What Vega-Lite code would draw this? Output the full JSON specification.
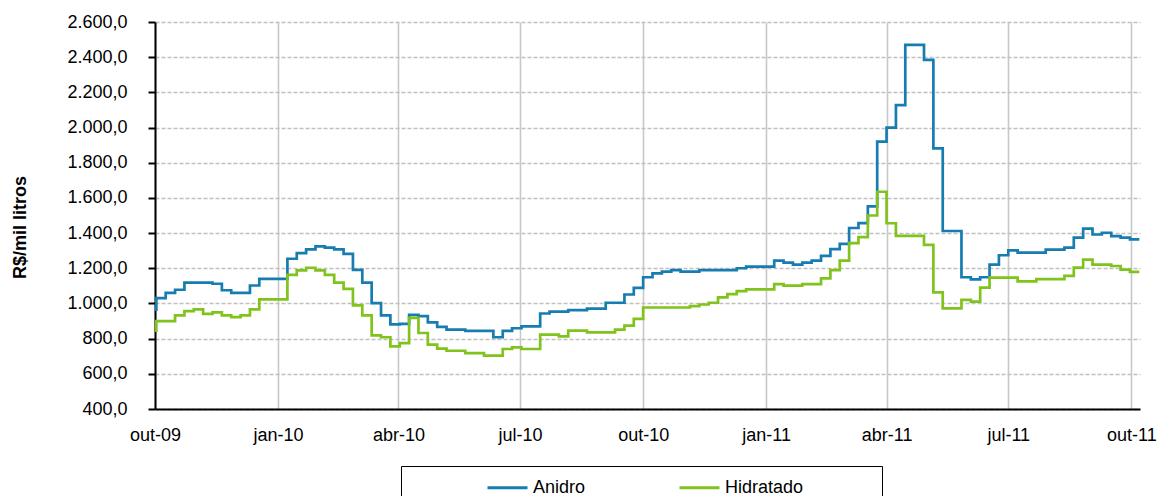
{
  "$schema": "https://vega.github.io/schema/vega-lite/v6.json",
  "width": 985,
  "height": 387,
  "autosize": {"type": "none"},
  "padding": {"left": 155, "top": 22, "right": 21, "bottom": 87},
  "background": "white",
  "datasets": {
    "precos": [
      {"data":"2009-10-01","serie":"Anidro","valor":965},{"data":"2009-10-01","serie":"Hidratado","valor":846},
      {"data":"2009-10-02","serie":"Anidro","valor":1030},{"data":"2009-10-02","serie":"Hidratado","valor":900},
      {"data":"2009-10-09","serie":"Anidro","valor":1060},{"data":"2009-10-09","serie":"Hidratado","valor":900},
      {"data":"2009-10-16","serie":"Anidro","valor":1078},{"data":"2009-10-16","serie":"Hidratado","valor":932},
      {"data":"2009-10-23","serie":"Anidro","valor":1118},{"data":"2009-10-23","serie":"Hidratado","valor":956},
      {"data":"2009-10-30","serie":"Anidro","valor":1118},{"data":"2009-10-30","serie":"Hidratado","valor":966},
      {"data":"2009-11-06","serie":"Anidro","valor":1118},{"data":"2009-11-06","serie":"Hidratado","valor":941},
      {"data":"2009-11-13","serie":"Anidro","valor":1112},{"data":"2009-11-13","serie":"Hidratado","valor":949},
      {"data":"2009-11-20","serie":"Anidro","valor":1075},{"data":"2009-11-20","serie":"Hidratado","valor":932},
      {"data":"2009-11-27","serie":"Anidro","valor":1060},{"data":"2009-11-27","serie":"Hidratado","valor":922},
      {"data":"2009-12-04","serie":"Anidro","valor":1060},{"data":"2009-12-04","serie":"Hidratado","valor":932},
      {"data":"2009-12-11","serie":"Anidro","valor":1102},{"data":"2009-12-11","serie":"Hidratado","valor":966},
      {"data":"2009-12-18","serie":"Anidro","valor":1140},{"data":"2009-12-18","serie":"Hidratado","valor":1023},
      {"data":"2009-12-25","serie":"Anidro","valor":1140},{"data":"2009-12-25","serie":"Hidratado","valor":1023},
      {"data":"2010-01-01","serie":"Anidro","valor":1140},{"data":"2010-01-01","serie":"Hidratado","valor":1023},
      {"data":"2010-01-08","serie":"Anidro","valor":1254},{"data":"2010-01-08","serie":"Hidratado","valor":1163},
      {"data":"2010-01-15","serie":"Anidro","valor":1286},{"data":"2010-01-15","serie":"Hidratado","valor":1188},
      {"data":"2010-01-22","serie":"Anidro","valor":1307},{"data":"2010-01-22","serie":"Hidratado","valor":1203},
      {"data":"2010-01-29","serie":"Anidro","valor":1324},{"data":"2010-01-29","serie":"Hidratado","valor":1188},
      {"data":"2010-02-05","serie":"Anidro","valor":1317},{"data":"2010-02-05","serie":"Hidratado","valor":1163},
      {"data":"2010-02-12","serie":"Anidro","valor":1307},{"data":"2010-02-12","serie":"Hidratado","valor":1118},
      {"data":"2010-02-19","serie":"Anidro","valor":1282},{"data":"2010-02-19","serie":"Hidratado","valor":1083},
      {"data":"2010-02-26","serie":"Anidro","valor":1191},{"data":"2010-02-26","serie":"Hidratado","valor":989},
      {"data":"2010-03-05","serie":"Anidro","valor":1118},{"data":"2010-03-05","serie":"Hidratado","valor":932},
      {"data":"2010-03-12","serie":"Anidro","valor":1002},{"data":"2010-03-12","serie":"Hidratado","valor":818},
      {"data":"2010-03-19","serie":"Anidro","valor":932},{"data":"2010-03-19","serie":"Hidratado","valor":808},
      {"data":"2010-03-26","serie":"Anidro","valor":881},{"data":"2010-03-26","serie":"Hidratado","valor":756},
      {"data":"2010-04-02","serie":"Anidro","valor":884},{"data":"2010-04-02","serie":"Hidratado","valor":775},
      {"data":"2010-04-09","serie":"Anidro","valor":935},{"data":"2010-04-09","serie":"Hidratado","valor":918},
      {"data":"2010-04-16","serie":"Anidro","valor":928},{"data":"2010-04-16","serie":"Hidratado","valor":832},
      {"data":"2010-04-23","serie":"Anidro","valor":893},{"data":"2010-04-23","serie":"Hidratado","valor":766},
      {"data":"2010-04-30","serie":"Anidro","valor":867},{"data":"2010-04-30","serie":"Hidratado","valor":743},
      {"data":"2010-05-07","serie":"Anidro","valor":851},{"data":"2010-05-07","serie":"Hidratado","valor":731},
      {"data":"2010-05-14","serie":"Anidro","valor":851},{"data":"2010-05-14","serie":"Hidratado","valor":731},
      {"data":"2010-05-21","serie":"Anidro","valor":844},{"data":"2010-05-21","serie":"Hidratado","valor":718},
      {"data":"2010-05-28","serie":"Anidro","valor":844},{"data":"2010-05-28","serie":"Hidratado","valor":718},
      {"data":"2010-06-04","serie":"Anidro","valor":844},{"data":"2010-06-04","serie":"Hidratado","valor":703},
      {"data":"2010-06-11","serie":"Anidro","valor":808},{"data":"2010-06-11","serie":"Hidratado","valor":703},
      {"data":"2010-06-18","serie":"Anidro","valor":844},{"data":"2010-06-18","serie":"Hidratado","valor":741},
      {"data":"2010-06-25","serie":"Anidro","valor":859},{"data":"2010-06-25","serie":"Hidratado","valor":750},
      {"data":"2010-07-02","serie":"Anidro","valor":870},{"data":"2010-07-02","serie":"Hidratado","valor":741},
      {"data":"2010-07-09","serie":"Anidro","valor":870},{"data":"2010-07-09","serie":"Hidratado","valor":741},
      {"data":"2010-07-16","serie":"Anidro","valor":943},{"data":"2010-07-16","serie":"Hidratado","valor":823},
      {"data":"2010-07-23","serie":"Anidro","valor":954},{"data":"2010-07-23","serie":"Hidratado","valor":823},
      {"data":"2010-07-30","serie":"Anidro","valor":954},{"data":"2010-07-30","serie":"Hidratado","valor":813},
      {"data":"2010-08-06","serie":"Anidro","valor":962},{"data":"2010-08-06","serie":"Hidratado","valor":846},
      {"data":"2010-08-13","serie":"Anidro","valor":962},{"data":"2010-08-13","serie":"Hidratado","valor":846},
      {"data":"2010-08-20","serie":"Anidro","valor":971},{"data":"2010-08-20","serie":"Hidratado","valor":836},
      {"data":"2010-08-27","serie":"Anidro","valor":971},{"data":"2010-08-27","serie":"Hidratado","valor":836},
      {"data":"2010-09-03","serie":"Anidro","valor":1004},{"data":"2010-09-03","serie":"Hidratado","valor":836},
      {"data":"2010-09-10","serie":"Anidro","valor":1004},{"data":"2010-09-10","serie":"Hidratado","valor":851},
      {"data":"2010-09-17","serie":"Anidro","valor":1051},{"data":"2010-09-17","serie":"Hidratado","valor":874},
      {"data":"2010-09-24","serie":"Anidro","valor":1089},{"data":"2010-09-24","serie":"Hidratado","valor":912},
      {"data":"2010-10-01","serie":"Anidro","valor":1149},{"data":"2010-10-01","serie":"Hidratado","valor":977},
      {"data":"2010-10-08","serie":"Anidro","valor":1171},{"data":"2010-10-08","serie":"Hidratado","valor":977},
      {"data":"2010-10-15","serie":"Anidro","valor":1181},{"data":"2010-10-15","serie":"Hidratado","valor":977},
      {"data":"2010-10-22","serie":"Anidro","valor":1190},{"data":"2010-10-22","serie":"Hidratado","valor":977},
      {"data":"2010-10-29","serie":"Anidro","valor":1181},{"data":"2010-10-29","serie":"Hidratado","valor":977},
      {"data":"2010-11-05","serie":"Anidro","valor":1181},{"data":"2010-11-05","serie":"Hidratado","valor":985},
      {"data":"2010-11-12","serie":"Anidro","valor":1190},{"data":"2010-11-12","serie":"Hidratado","valor":994},
      {"data":"2010-11-19","serie":"Anidro","valor":1190},{"data":"2010-11-19","serie":"Hidratado","valor":1004},
      {"data":"2010-11-26","serie":"Anidro","valor":1190},{"data":"2010-11-26","serie":"Hidratado","valor":1034},
      {"data":"2010-12-03","serie":"Anidro","valor":1190},{"data":"2010-12-03","serie":"Hidratado","valor":1053},
      {"data":"2010-12-10","serie":"Anidro","valor":1200},{"data":"2010-12-10","serie":"Hidratado","valor":1070},
      {"data":"2010-12-17","serie":"Anidro","valor":1209},{"data":"2010-12-17","serie":"Hidratado","valor":1080},
      {"data":"2010-12-24","serie":"Anidro","valor":1209},{"data":"2010-12-24","serie":"Hidratado","valor":1080},
      {"data":"2010-12-31","serie":"Anidro","valor":1209},{"data":"2010-12-31","serie":"Hidratado","valor":1080},
      {"data":"2011-01-07","serie":"Anidro","valor":1244},{"data":"2011-01-07","serie":"Hidratado","valor":1110},
      {"data":"2011-01-14","serie":"Anidro","valor":1232},{"data":"2011-01-14","serie":"Hidratado","valor":1101},
      {"data":"2011-01-21","serie":"Anidro","valor":1221},{"data":"2011-01-21","serie":"Hidratado","valor":1101},
      {"data":"2011-01-28","serie":"Anidro","valor":1232},{"data":"2011-01-28","serie":"Hidratado","valor":1110},
      {"data":"2011-02-04","serie":"Anidro","valor":1244},{"data":"2011-02-04","serie":"Hidratado","valor":1110},
      {"data":"2011-02-11","serie":"Anidro","valor":1270},{"data":"2011-02-11","serie":"Hidratado","valor":1143},
      {"data":"2011-02-18","serie":"Anidro","valor":1309},{"data":"2011-02-18","serie":"Hidratado","valor":1190},
      {"data":"2011-02-25","serie":"Anidro","valor":1339},{"data":"2011-02-25","serie":"Hidratado","valor":1244},
      {"data":"2011-03-04","serie":"Anidro","valor":1429},{"data":"2011-03-04","serie":"Hidratado","valor":1343},
      {"data":"2011-03-11","serie":"Anidro","valor":1457},{"data":"2011-03-11","serie":"Hidratado","valor":1377},
      {"data":"2011-03-18","serie":"Anidro","valor":1552},{"data":"2011-03-18","serie":"Hidratado","valor":1500},
      {"data":"2011-03-25","serie":"Anidro","valor":1920},{"data":"2011-03-25","serie":"Hidratado","valor":1635},
      {"data":"2011-04-01","serie":"Anidro","valor":2000},{"data":"2011-04-01","serie":"Hidratado","valor":1456},
      {"data":"2011-04-08","serie":"Anidro","valor":2127},{"data":"2011-04-08","serie":"Hidratado","valor":1384},
      {"data":"2011-04-15","serie":"Anidro","valor":2470},{"data":"2011-04-15","serie":"Hidratado","valor":1384},
      {"data":"2011-04-22","serie":"Anidro","valor":2470},{"data":"2011-04-22","serie":"Hidratado","valor":1384},
      {"data":"2011-04-29","serie":"Anidro","valor":2385},{"data":"2011-04-29","serie":"Hidratado","valor":1333},
      {"data":"2011-05-06","serie":"Anidro","valor":1882},{"data":"2011-05-06","serie":"Hidratado","valor":1063},
      {"data":"2011-05-13","serie":"Anidro","valor":1412},{"data":"2011-05-13","serie":"Hidratado","valor":972},
      {"data":"2011-05-20","serie":"Anidro","valor":1412},{"data":"2011-05-20","serie":"Hidratado","valor":972},
      {"data":"2011-05-27","serie":"Anidro","valor":1149},{"data":"2011-05-27","serie":"Hidratado","valor":1020},
      {"data":"2011-06-03","serie":"Anidro","valor":1137},{"data":"2011-06-03","serie":"Hidratado","valor":1010},
      {"data":"2011-06-10","serie":"Anidro","valor":1149},{"data":"2011-06-10","serie":"Hidratado","valor":1090},
      {"data":"2011-06-17","serie":"Anidro","valor":1221},{"data":"2011-06-17","serie":"Hidratado","valor":1147},
      {"data":"2011-06-24","serie":"Anidro","valor":1274},{"data":"2011-06-24","serie":"Hidratado","valor":1147},
      {"data":"2011-07-01","serie":"Anidro","valor":1302},{"data":"2011-07-01","serie":"Hidratado","valor":1147},
      {"data":"2011-07-08","serie":"Anidro","valor":1289},{"data":"2011-07-08","serie":"Hidratado","valor":1126},
      {"data":"2011-07-15","serie":"Anidro","valor":1289},{"data":"2011-07-15","serie":"Hidratado","valor":1126},
      {"data":"2011-07-22","serie":"Anidro","valor":1289},{"data":"2011-07-22","serie":"Hidratado","valor":1138},
      {"data":"2011-07-29","serie":"Anidro","valor":1306},{"data":"2011-07-29","serie":"Hidratado","valor":1138},
      {"data":"2011-08-05","serie":"Anidro","valor":1306},{"data":"2011-08-05","serie":"Hidratado","valor":1138},
      {"data":"2011-08-12","serie":"Anidro","valor":1317},{"data":"2011-08-12","serie":"Hidratado","valor":1157},
      {"data":"2011-08-19","serie":"Anidro","valor":1374},{"data":"2011-08-19","serie":"Hidratado","valor":1204},
      {"data":"2011-08-26","serie":"Anidro","valor":1425},{"data":"2011-08-26","serie":"Hidratado","valor":1249},
      {"data":"2011-09-02","serie":"Anidro","valor":1392},{"data":"2011-09-02","serie":"Hidratado","valor":1221},
      {"data":"2011-09-09","serie":"Anidro","valor":1402},{"data":"2011-09-09","serie":"Hidratado","valor":1221},
      {"data":"2011-09-16","serie":"Anidro","valor":1383},{"data":"2011-09-16","serie":"Hidratado","valor":1213},
      {"data":"2011-09-23","serie":"Anidro","valor":1374},{"data":"2011-09-23","serie":"Hidratado","valor":1192},
      {"data":"2011-09-30","serie":"Anidro","valor":1364},{"data":"2011-09-30","serie":"Hidratado","valor":1179},
      {"data":"2011-10-07","serie":"Anidro","valor":1364},{"data":"2011-10-07","serie":"Hidratado","valor":1179}
    ]
  },
  "data": {"name": "precos"},
  "mark": {"type": "line", "interpolate": "step-after", "strokeWidth": 2.7, "clip": true},
  "encoding": {
    "x": {
      "field": "data",
      "type": "temporal",
      "scale": {
        "type": "utc",
        "domain": [
          {"year": 2009, "month": 10, "date": 1, "utc": true},
          {"year": 2011, "month": 10, "date": 7, "hours": 12, "utc": true}
        ]
      },
      "axis": {
        "title": null,
        "values": [
          {"year": 2009, "month": 10, "date": 1, "utc": true},
          {"year": 2010, "month": 1, "date": 1, "utc": true},
          {"year": 2010, "month": 4, "date": 1, "utc": true},
          {"year": 2010, "month": 7, "date": 1, "utc": true},
          {"year": 2010, "month": 10, "date": 1, "utc": true},
          {"year": 2011, "month": 1, "date": 1, "utc": true},
          {"year": 2011, "month": 4, "date": 1, "utc": true},
          {"year": 2011, "month": 7, "date": 1, "utc": true},
          {"year": 2011, "month": 10, "date": 1, "utc": true}
        ],
        "labelExpr": "['jan','fev','mar','abr','mai','jun','jul','ago','set','out','nov','dez'][utcmonth(datum.value)] + '-' + utcFormat(datum.value, '%y')",
        "grid": true,
        "gridColor": "#c8c8c8",
        "gridWidth": 1.6,
        "ticks": false,
        "labelPadding": 17,
        "labelFont": "Liberation Sans",
        "labelFontSize": 18,
        "labelColor": "#000000",
        "labelFlush": false,
        "labelOverlap": false,
        "domainColor": "#000000",
        "domainWidth": 2
      }
    },
    "y": {
      "field": "valor",
      "type": "quantitative",
      "scale": {"domain": [400, 2600], "nice": false, "zero": false},
      "axis": {
        "title": "R$/mil litros",
        "titleFont": "Liberation Sans",
        "titleFontSize": 18,
        "titleFontWeight": "bold",
        "titleColor": "#000000",
        "titleAngle": -90,
        "titleAlign": "center",
        "titleBaseline": "middle",
        "titleX": -135,
        "titleY": 205,
        "values": [400, 600, 800, 1000, 1200, 1400, 1600, 1800, 2000, 2200, 2400, 2600],
        "labelExpr": "(datum.value >= 1000 ? floor(datum.value / 1000) + '.' + format(datum.value % 1000, '03d') : format(datum.value, 'd')) + ',0'",
        "labelFont": "Liberation Sans",
        "labelFontSize": 18,
        "labelColor": "#000000",
        "labelPadding": 21,
        "tickSize": 7,
        "tickWidth": 2,
        "tickColor": "#000000",
        "domainColor": "#000000",
        "domainWidth": 2,
        "grid": true,
        "gridColor": "#c0c0c0",
        "gridDash": [4, 2],
        "gridWidth": 1.3
      }
    },
    "color": {
      "field": "serie",
      "type": "nominal",
      "scale": {"domain": ["Anidro", "Hidratado"], "range": ["#177db1", "#80c31c"]},
      "legend": {
        "orient": "none",
        "legendX": 246,
        "legendY": 444,
        "direction": "horizontal",
        "columns": 2,
        "gridAlign": "each",
        "columnPadding": 87,
        "title": " ",
        "titleOrient": "left",
        "titlePadding": 85,
        "strokeColor": "#000000",
        "fillColor": "#ffffff",
        "padding": 0,
        "symbolType": "stroke",
        "symbolSize": 1600,
        "symbolStrokeWidth": 3,
        "labelFont": "Liberation Sans",
        "labelFontSize": 18,
        "labelColor": "#000000",
        "labelOffset": 4,
        "labelLimit": 400,
        "labelExpr": "datum.label == 'Hidratado' ? 'Hidratado\u2800\u2800\u2800\u2800\u2800\u2800' : datum.label"
      }
    }
  },
  "config": {"view": {"stroke": null}}
}
